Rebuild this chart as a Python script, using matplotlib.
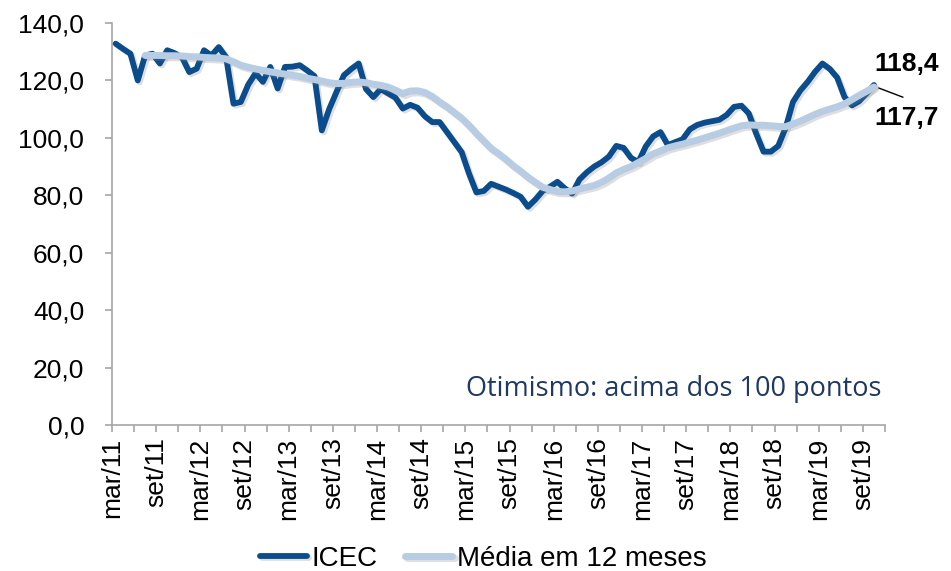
import numpy as np
import matplotlib
matplotlib.use("Agg")
import matplotlib.pyplot as plt
import matplotlib.patheffects as pe
from matplotlib.ticker import FuncFormatter, MultipleLocator

plt.rcParams['font.family'] = ['Liberation Sans', 'DejaVu Sans']

# monthly values, mar/11 .. out/19
icec = [132.8, 131.0, 129.3, 120.0, 128.7, 129.3, 125.9, 130.5, 129.5, 128.1,
        122.9, 124.1, 130.5, 128.7, 131.6, 128.1, 111.9, 112.5, 118.5, 122.5,
        119.5, 124.7, 117.2, 124.7, 124.8, 125.3, 123.5, 121.5, 102.6, 110.0,
        116.0, 121.8, 124.0, 125.9, 117.0, 114.2, 117.0, 115.5, 114.0, 110.2,
        111.5, 110.5, 107.5, 105.5, 105.5, 102.0, 98.5, 95.0, 87.5, 81.0,
        81.5, 84.0, 83.0, 82.0, 80.8, 79.5, 76.0, 78.5, 81.5, 83.0,
        84.7, 82.4, 80.6, 85.5, 88.0, 90.0, 91.5, 93.5, 97.2, 96.5,
        93.0, 91.6, 97.0, 100.5, 102.0, 97.5, 98.5, 99.5, 103.0, 104.5,
        105.3, 105.8, 106.3, 108.0, 110.8, 111.2, 108.5, 101.5, 95.2, 95.2,
        97.2, 103.5, 112.5, 116.5, 119.5, 123.0, 125.9, 124.0, 121.0, 114.2,
        111.3, 112.8, 115.5, 118.4]

# 12-month average, starts at jul/11
media_start = 4
media12 = [128.7, 128.7, 128.7, 128.6, 128.6, 128.5, 128.3, 128.2, 128.0, 127.9,
           127.8, 127.5, 126.5, 125.3, 124.6, 124.0, 123.5, 123.0, 122.6, 122.2,
           121.8, 121.4, 120.8, 120.3, 119.8, 119.2, 118.9, 119.0, 119.3, 119.5,
           119.2, 118.7, 118.3, 117.7, 116.6, 115.4, 116.3, 116.4, 115.8, 114.4,
           112.5, 110.8, 108.8, 106.8, 104.3, 101.5, 98.9, 96.3, 94.5, 92.5,
           90.3, 88.4, 86.3, 84.5, 82.8, 82.0, 81.3, 81.2, 81.5, 82.2,
           82.8, 83.4, 84.5, 86.0, 87.8, 89.0, 90.0, 91.4, 92.8, 94.4,
           95.4, 96.5, 97.2, 97.8, 98.5, 99.2, 100.0, 100.8, 101.6, 102.5,
           103.4, 104.2, 104.5, 104.4, 104.4, 104.2, 104.0, 103.9, 104.8, 105.8,
           107.0, 108.2, 109.2, 110.0, 110.8, 111.8, 113.3, 114.8, 116.2, 117.7]

years = list(range(11, 20))
tick_labels = []
for y in years:
    tick_labels += ['mar/%d' % y, 'set/%d' % y]

dark = '#0b4c8c'
light = '#b8cce4'

fig = plt.figure(figsize=(9.51, 5.71), dpi=100)
ax = fig.add_axes([112 / 951, 146 / 571, 773 / 951, 402 / 571])

x = np.arange(len(icec)) + 0.5
xm = np.arange(media_start, media_start + len(media12)) + 0.5

shadow = [pe.SimpleLineShadow(offset=(1.5, -1.5), shadow_color='#808080', alpha=0.25), pe.Normal()]
l1, = ax.plot(x, icec, color=dark, lw=4.2, solid_joinstyle='round', solid_capstyle='round',
              path_effects=shadow, label='ICEC', zorder=3)
l2, = ax.plot(xm, media12, color=light, lw=5.0, solid_joinstyle='round', solid_capstyle='round',
              path_effects=shadow, label='Média em 12 meses', zorder=4)

ax.set_xlim(0, len(icec))
ax.set_ylim(0, 140)
ax.yaxis.set_major_locator(MultipleLocator(20))
ax.yaxis.set_major_formatter(FuncFormatter(lambda v, p: ('%.1f' % v).replace('.', ',')))

ax.set_xticks(np.arange(0, 6 * len(tick_labels), 6))
ax.set_xticklabels(tick_labels, rotation=90)
ax.set_xticks(np.arange(3, 6 * len(tick_labels), 6), minor=True)

for s in ['top', 'right']:
    ax.spines[s].set_visible(False)
for s in ['left', 'bottom']:
    ax.spines[s].set_color('#a6a6a6')
    ax.spines[s].set_linewidth(1.2)
ax.tick_params(axis='both', which='both', color='#a6a6a6', width=1.2, length=5,
               labelsize=19, labelcolor='black')
ax.tick_params(axis='y', pad=15)
ax.tick_params(axis='x', pad=4)

ax.text(0.995, 0.09, 'Otimismo: acima dos 100 pontos', transform=ax.transAxes,
        ha='right', va='center', fontsize=19.5, color='#1f3864', family='Open Sans')

# end labels
n = len(icec)
ax.annotate('', xy=(n - 0.2, media12[-1]), xytext=(n + 3.8, 113.8),
            arrowprops=dict(arrowstyle='-', color='black', lw=1), annotation_clip=False)
ax.text(n - 0.5, 125.6, '118,4', fontsize=19, fontweight='bold', ha='left', va='center')
ax.text(n - 0.5, 107.0, '117,7', fontsize=19, fontweight='bold', ha='left', va='center')

fig.legend(handles=[l1, l2], loc='lower center', bbox_to_anchor=(0.508, -0.045), ncol=2,
           frameon=False, fontsize=20, handlelength=1.7, columnspacing=1.0, handletextpad=0.15)

fig.savefig('out.png', dpi=100)
